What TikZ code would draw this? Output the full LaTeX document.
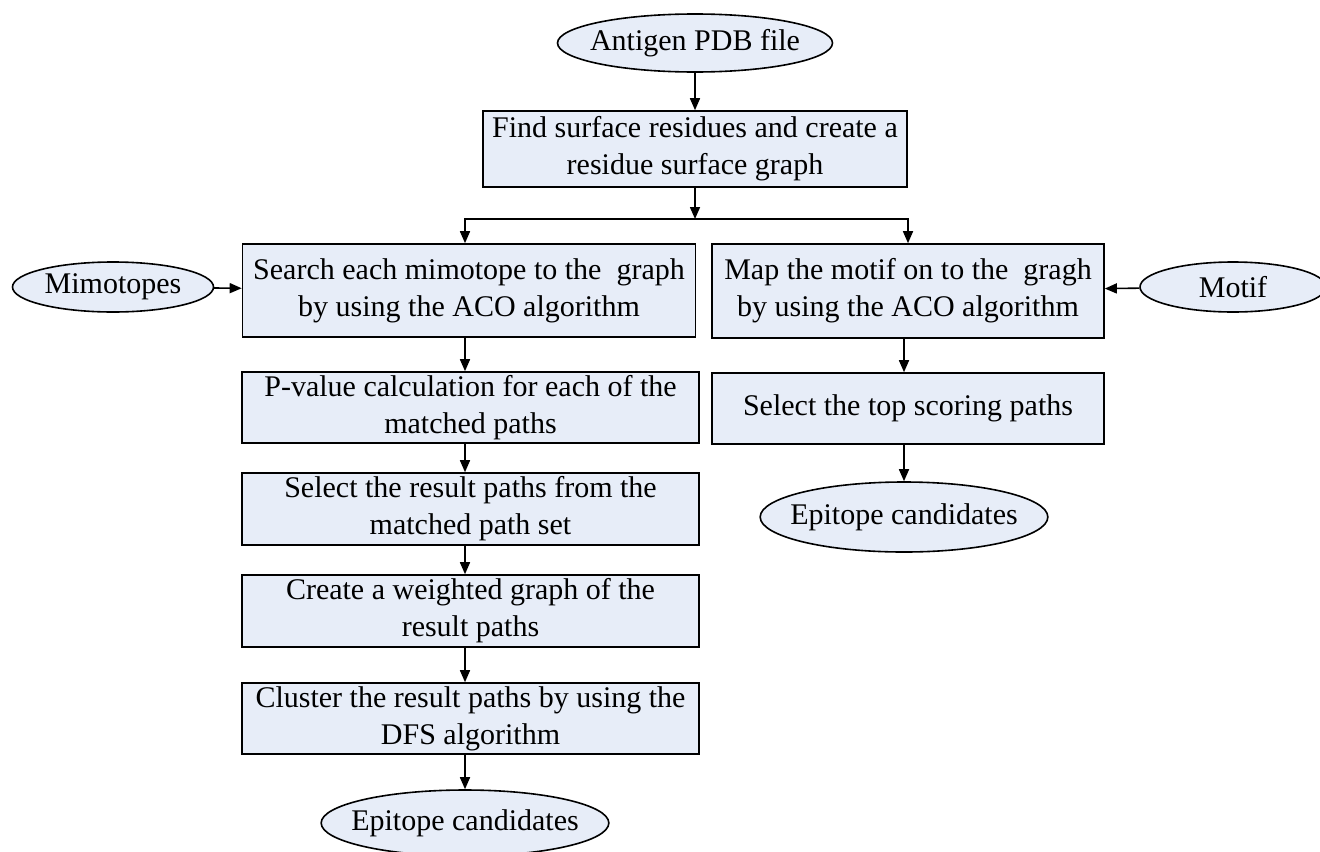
\documentclass[tikz,border=0pt]{standalone}
\usepackage{fontspec}
\setmainfont{Liberation Serif}
\usetikzlibrary{shapes.geometric,arrows.meta}
\definecolor{boxfill}{RGB}{231,237,248}
\begin{document}
\begin{tikzpicture}[x=0.5pt,y=-0.5pt,
    font=\fontsize{15}{18.5}\selectfont,
    box/.style={draw, line width=0.8pt, fill=boxfill, align=center, inner sep=1pt},
    blob/.style={ellipse, draw, line width=0.8pt, fill=boxfill, inner xsep=-6pt, inner ysep=0pt},
    arr/.style={-{Triangle[length=6pt,width=5pt]}, line width=0.8pt}]
        \useasboundingbox (0,0) rectangle (1320,851);
        \node[blob, minimum width=137.5pt, minimum height=29pt] (pdb) at (695,43) {Antigen PDB file};
        \node[box, minimum width=212pt, minimum height=38pt] (find) at (695,149) {Find surface residues and create a\\ residue surface graph};
        \coordinate (split) at (695,219);

        % left branch
        \node[box, minimum width=226.5pt, minimum height=46.5pt] (search) at (469,290.5) {Search each mimotope to the\ \ graph\\ by using the ACO algorithm};
        \node[blob, minimum width=100.5pt, minimum height=25pt] (mimo) at (113,287) {Mimotopes};
        \node[box, minimum width=228.5pt, minimum height=35.5pt] (pval) at (470.5,407.5) {P-value calculation for each of the\\ matched paths};
        \node[box, minimum width=228.5pt, minimum height=36pt] (selres) at (470.5,509) {Select the result paths from the\\ matched path set};
        \node[box, minimum width=228.5pt, minimum height=36pt] (weight) at (470.5,611) {Create a weighted graph of the\\ result paths};
        \node[box, minimum width=228.5pt, minimum height=35.5pt] (clust) at (470.5,718.5) {Cluster the result paths by using the\\ DFS algorithm};
        \node[blob, minimum width=143pt, minimum height=33pt] (epiL) at (465,823) {Epitope candidates};

        % right branch
        \node[box, minimum width=196pt, minimum height=47pt] (map) at (908,291) {Map the motif on to the\ \ gragh\\ by using the ACO algorithm};
        \node[blob, minimum width=93pt, minimum height=25pt] (motif) at (1233,287) {Motif};
        \node[box, minimum width=196pt, minimum height=35.5pt] (top) at (908,408.5) {Select the top scoring paths};
        \node[blob, minimum width=143pt, minimum height=35pt] (epiR) at (904,517) {Epitope candidates};

        \draw[arr] (pdb) -- (find);
        \draw[arr] (find) -- (split);
        \draw[arr] (split) -| (search.north -| epiL);
        \draw[arr] (split) -| (map.north);
        \draw[arr] (mimo) -- (search);
        \draw[arr] (motif) -- (map);
        \draw[arr] (search.south -| epiL) -- (pval.north -| epiL);
        \draw[arr] (pval.south -| epiL) -- (selres.north -| epiL);
        \draw[arr] (selres.south -| epiL) -- (weight.north -| epiL);
        \draw[arr] (weight.south -| epiL) -- (clust.north -| epiL);
        \draw[arr] (clust.south -| epiL) -- (epiL);
        \draw[arr] (map.south -| epiR) -- (top.north -| epiR);
        \draw[arr] (top.south -| epiR) -- (epiR);
\end{tikzpicture}
\end{document}
